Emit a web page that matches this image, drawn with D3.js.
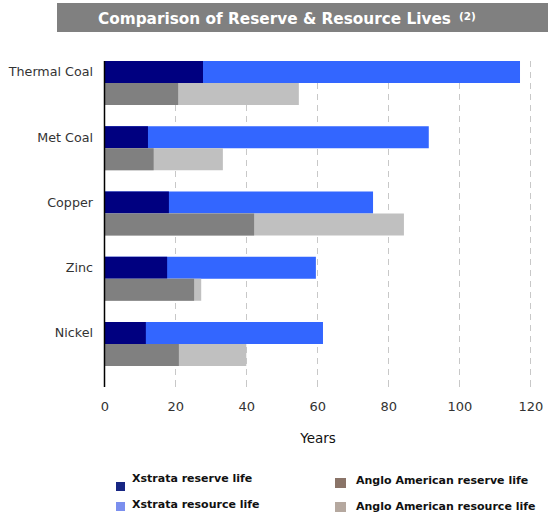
<!DOCTYPE html>
<html><head><meta charset="utf-8">
<script src="https://cdn.jsdelivr.net/npm/d3@7"></script>
<style>html,body{margin:0;padding:0;background:#fff}svg{display:block}</style>
</head><body>
<svg id="c" width="548" height="517"></svg>
<script>
const categories = ["Thermal Coal","Met Coal","Copper","Zinc","Nickel"];
const xstrataReserve = [27.8, 12.3, 18.2, 17.7, 11.7];
const xstrataResource = [117.1, 91.4, 75.7, 59.6, 61.6];
const angloReserve = [20.8, 13.9, 42.2, 25.3, 21.0];
const angloResource = [54.8, 33.4, 84.4, 27.3, 40.0];
const xTicks = [0,20,40,60,80,100,120];
const legendItems = ["Xstrata reserve life","Xstrata resource life","Anglo American reserve life","Anglo American resource life"];

const svg = d3.select("#c");
const font = "DejaVu Sans, Verdana, sans-serif";

// title
svg.append("rect").attr("x",57).attr("y",3).attr("width",491).attr("height",29).attr("fill","#808080");
const t = svg.append("text").attr("x",98).attr("y",23.5).attr("fill","#fff")
  .attr("font-family",font).attr("font-weight","bold").attr("font-size",15.3);
t.append("tspan").text("Comparison of Reserve & Resource Lives");
t.append("tspan").attr("dx",8).attr("dy",-4).attr("font-size",10.5).text("(2)");

const x = d3.scaleLinear().domain([0,120]).range([104.3,530.3]);
const y0 = d3.scaleBand().domain(categories).range([61,366]).paddingInner(1-44/65.25).paddingOuter(0);
const y1 = d3.scaleBand().domain(["xstrata","anglo"]).range([0,y0.bandwidth()]);

// gridlines
svg.append("g").selectAll("line").data(xTicks.slice(1)).join("line")
  .attr("x1",d=>Math.round(x(d))+0.5).attr("x2",d=>Math.round(x(d))+0.5)
  .attr("y1",61).attr("y2",383)
  .attr("stroke","#c8c8c8").attr("stroke-width",1).attr("stroke-dasharray","6,5");
svg.append("g").selectAll("line").data(xTicks.slice(1)).join("line")
  .attr("x1",d=>Math.round(x(d))+0.5).attr("x2",d=>Math.round(x(d))+0.5)
  .attr("y1",383).attr("y2",387).attr("stroke","#c8c8c8");

// bars
const groups = [
  {key:"xstrata", res:xstrataResource, rsv:xstrataReserve, cRes:"#3366ff", cRsv:"#000080"},
  {key:"anglo", res:angloResource, rsv:angloReserve, cRes:"#c0c0c0", cRsv:"#808080"}
];
groups.forEach(g=>{
  svg.append("g").selectAll("rect").data(categories).join("rect")
    .attr("x",x(0)).attr("y",c=>y0(c)+y1(g.key))
    .attr("width",(c,i)=>x(g.res[i])-x(0)).attr("height",y1.bandwidth()).attr("fill",g.cRes);
  svg.append("g").selectAll("rect").data(categories).join("rect")
    .attr("x",x(0)).attr("y",c=>y0(c)+y1(g.key))
    .attr("width",(c,i)=>x(g.rsv[i])-x(0)).attr("height",y1.bandwidth()).attr("fill",g.cRsv);
});

// axis line
svg.append("line").attr("x1",104.5).attr("x2",104.5).attr("y1",61).attr("y2",387).attr("stroke","#000").attr("stroke-width",1.5);

// category labels
svg.append("g").selectAll("text").data(categories).join("text")
  .attr("x",93).attr("y",c=>y0(c)+y1.bandwidth()/2).attr("dy","0.35em")
  .attr("text-anchor","end").attr("font-family",font).attr("font-size",12.7).attr("fill","#333")
  .text(d=>d);

// x tick labels
const xAxis = d3.axisBottom(x).tickValues(xTicks).tickSize(0).tickPadding(0);
const ax = svg.append("g").attr("transform","translate(0,402)").call(xAxis);
ax.select(".domain").remove();
ax.selectAll("text").attr("font-family",font).attr("font-size",13).attr("fill","#333");

svg.append("text").attr("x",318).attr("y",443).attr("text-anchor","middle")
  .attr("font-family",font).attr("font-size",13.5).attr("fill","#111").text("Years");

// legend
const legColors = ["#172683","#7b8fee","#8a7468","#b5a89f"];
const legPos = [
  {sx:116,sy:482,tx:132,ty:482},
  {sx:116,sy:502,tx:132,ty:508},
  {sx:335,sy:478,tx:356,ty:484},
  {sx:335,sy:502,tx:356,ty:510}
];
legendItems.forEach((d,i)=>{
  const p = legPos[i];
  svg.append("rect").attr("x",p.sx).attr("y",p.sy).attr("width",i<2?9:11).attr("height",i<2?9:10).attr("fill",legColors[i]);
  svg.append("text").attr("x",p.tx).attr("y",p.ty).attr("font-family",font).attr("font-weight","bold")
    .attr("font-size",11).attr("fill","#111").text(d);
});
</script>
</body></html>
